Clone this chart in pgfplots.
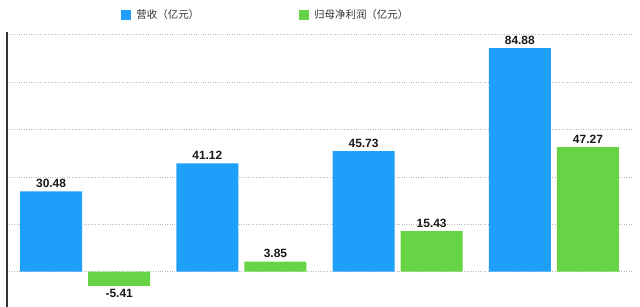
\documentclass[border=0pt]{standalone}
\usepackage{fontspec}
\setmainfont{Liberation Sans}
\newfontfamily\cjk{Noto Sans CJK SC}
\usepackage{pgfplots}
\pgfplotsset{compat=1.18}
\definecolor{revblue}{RGB}{30,160,250}
\definecolor{profgreen}{RGB}{102,212,68}
\definecolor{gridgray}{RGB}{185,185,185}
\begin{document}
\begin{tikzpicture}
\useasboundingbox (-7bp,0bp) rectangle (633bp,307bp);
\begin{axis}[
  scale only axis,
  width=625bp, height=275bp,
  xmin=-0.5, xmax=3.5,
  ymin=-13.4, ymax=91,
  ybar, bar width=0.397,
  axis x line=none,
  axis y line*=left,
  y axis line style={draw=black!80, line width=1.3pt},
  ytick={0,18,36,54,72,90},
  yticklabels={},
  xtick=\empty,
  major tick length=0pt,
  ymajorgrids,
  grid style={dotted, gridgray, line width=0.7pt},
  nodes near coords,
  nodes near coords style={font=\bfseries\fontsize{12}{12}\selectfont, text=black!90,
    /pgf/number format/assume math mode=true,
    /pgf/number format/fixed, /pgf/number format/precision=2, /pgf/number format/fixed zerofill},
  legend columns=2,
  legend style={at={(0.178,1.097)}, anchor=north west, draw=none, fill=none,
    font=\cjk\fontsize{10.5}{10.5}\selectfont, text=black!80,
    /tikz/every odd column/.append style={column sep=3bp},
    /tikz/every even column/.append style={column sep=98bp}},
  legend image code/.code={\fill[#1] (0bp,-5bp) rectangle (10bp,5bp);},
]
\addplot[bar shift=-0.218, fill=revblue, draw=none]
  coordinates {(0,30.48) (1,41.12) (2,45.73) (3,84.88)};
\addlegendentry{营收（亿元）}
\addplot[bar shift=0.218, fill=profgreen, draw=none]
  coordinates {(0,-5.41) (1,3.85) (2,15.43) (3,47.27)};
\addlegendentry{归母净利润（亿元）}
\end{axis}
\end{tikzpicture}
\end{document}
